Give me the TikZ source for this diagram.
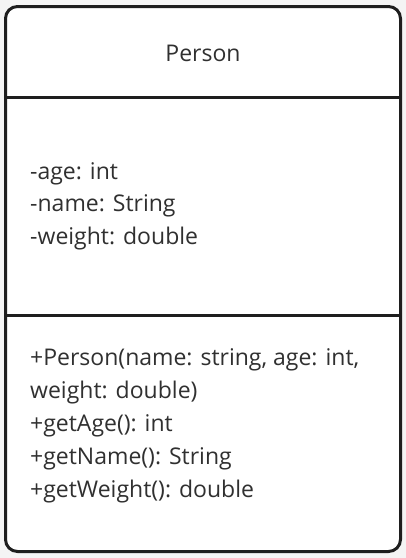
\documentclass[tikz,border=0pt]{standalone}
\usepackage{fontspec}
\setmainfont{Open Sans}
\definecolor{bgc}{HTML}{F4F4F4}
\definecolor{linec}{HTML}{1E1E1E}
\definecolor{txtc}{HTML}{303030}
\begin{document}
\begin{tikzpicture}[x=1pt,y=-1pt,
  umltext/.style={anchor=base west,inner sep=0pt,text=txtc,font=\fontsize{23}{28}\selectfont},
  frame/.style={draw=linec,line width=3pt,fill=white,rounded corners=12pt}]
\useasboundingbox (0,0) rectangle (406,558);
\fill[bgc] (0,0) rectangle (406,558);
\draw[frame] (5.5,6.5) rectangle (400.5,551.5);
\coordinate (d1l) at (5.5,97.5);
\coordinate (d1r) at (400.5,97.5);
\coordinate (d2l) at (5.5,315.5);
\coordinate (d2r) at (400.5,315.5);
\draw[linec,line width=3pt] (d1l) -- (d1r);
\draw[linec,line width=3pt] (d2l) -- (d2r);
\node[umltext,anchor=base] (title) at (203,61) {Person};
\node[umltext] (a1) at (30,179) {-age: int};
\node[umltext] (a2) at (30,211.5) {-name: String};
\node[umltext] (a3) at (30,244) {-weight: double};
\node[umltext] (m1) at (30,365) {+Person(name: string, age: int,};
\node[umltext] (m2) at (30,398) {weight: double)};
\node[umltext] (m3) at (30,431) {+getAge(): int};
\node[umltext] (m4) at (30,464) {+getName(): String};
\node[umltext] (m5) at (30,497) {+getWeight(): double};
\end{tikzpicture}
\end{document}
